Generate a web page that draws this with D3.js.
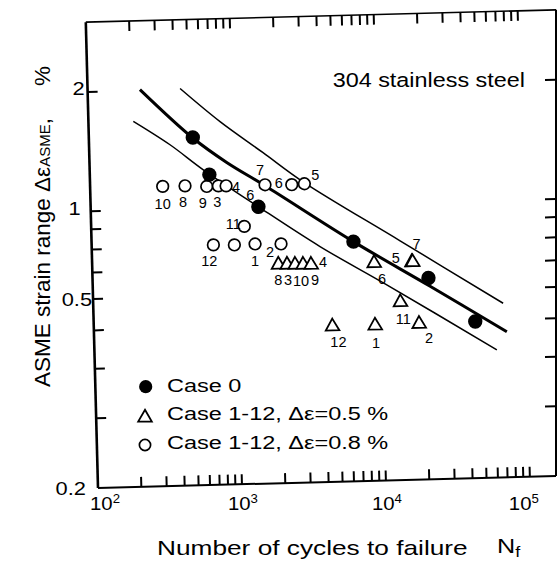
<!DOCTYPE html>
<html><head><meta charset="utf-8">
<script src="https://cdn.jsdelivr.net/npm/d3@7"></script>
<style>
html,body{margin:0;padding:0;background:#fff;}
svg{display:block;}
text{font-family:"Liberation Sans",Arial,Helvetica,sans-serif;fill:#000;}
</style>
</head><body>
<svg id="c" width="558" height="566"></svg>
<script>
// ---------------- data ----------------
const xTickValues = [200,300,400,500,600,700,800,900,1000,
                     2000,3000,4000,5000,6000,7000,8000,9000,10000,
                     20000,30000,40000,50000,60000,70000,80000,90000,100000];
const xTickLabelValues = [100, 1000, 10000, 100000];
const xTickLabelExponents = ["2","3","4","5"];
const yTickValues = [0.3,0.4,0.5,0.6,0.7,0.8,0.9,1,2];
const yTickLabels = ["0.2","0.5","1","2"];
const yTickLabelValues = [0.2, 0.6, 1, 2];   // positions where the source figure prints them

const case0Cycles = [527, 676, 1461, 6577, 21480, 44570];
const case0Strain = [1.51, 1.214, 1.00, 0.805, 0.644, 0.497];

const tri05Labels = ["8","3","10","9","4","6","5","7","11","12","1","2"];
const tri05Cycles = [1964, 2257, 2564, 2914, 3311, 9072, 16600, 16800, 13590, 4540, 8985, 18160];
const tri05Strain = [0.719, 0.718, 0.717, 0.716, 0.715, 0.715, 0.715, 0.715, 0.5675, 0.498, 0.4975, 0.499];

const circ08Labels = ["6","10","8","9","3","4","7","6","5","11","12","","1","2"];
const circ08Cycles = [1461, 319, 456, 645, 777, 879, 1639, 2512, 3076, 1156, 700, 979, 1364, 2065];
const circ08Strain = [1.00, 1.142, 1.142, 1.134, 1.136, 1.135, 1.135, 1.131, 1.135, 0.894, 0.807, 0.804, 0.806, 0.803];

const meanCycles  = [231, 527, 897, 1639, 6577, 21990, 73560];
const meanStrain  = [2.011, 1.506, 1.300, 1.129, 0.805, 0.614, 0.466];
const upperCycles = [439, 820, 1610, 3013, 13870, 70150];
const upperStrain = [2.011, 1.649, 1.368, 1.148, 0.803, 0.550];
const lowerCycles = [205, 365, 615, 1461, 3849, 11010, 62230];
const lowerStrain = [1.674, 1.453, 1.250, 1.00, 0.786, 0.623, 0.420];

const legendLabels = ["Case 0", "Case 1-12, \u0394\u03b5=0.5 %", "Case 1-12, \u0394\u03b5=0.8 %"];

// ---------------- layout ----------------
const W = 558, H = 566;
const origin = [98, 488];       // bottom-left corner of the frame
const tilt = -1.5;              // the scanned frame is slightly rotated
const rightEdge = 556;          // right border (screen x)
const plotW = 432, plotH = 466;
const circLabelOffsets = [[-8,-12],[0,17],[-2,16],[-4,16],[-1,16],[10,1],[-5,-15],[-13,-2],[11,-9],[-11,-3],[-4,16],[0,0],[0,17],[-11,8]];
const triLabelOffsets  = [[0,17],[1,17],[6,18],[12,17],[12,-1],[8,17],[-16,-3],[4,-17],[3,18],[6,17],[1,19],[10,16]];
const xLabelDx = [7, 1, 1, -6];
const yLabelDx = [-12, -1, -10, -3];
const yLabelDy = [0, 0, -2.5, -3.5];

const rad = tilt*Math.PI/180, C = Math.cos(rad), S = Math.sin(rad);
function toScreen(X, Y){ return [origin[0] + X*C - Y*S, origin[1] + X*S + Y*C]; }
function rightX(Y){ return (rightEdge - origin[0] + Y*S)/C; }

const x = d3.scaleLog().domain([100, 1e5]).range([0, plotW]);
const y = d3.scaleLog().domain([0.2, 3]).range([0, -plotH]);

const svg = d3.select("#c");
svg.append("rect").attr("width", W).attr("height", H).attr("fill", "#fff");

const g = svg.append("g").attr("transform", `translate(${origin[0]},${origin[1]}) rotate(${tilt})`);

// frame
const topY = y(3);
g.append("line").attr("x1",0).attr("y1",0).attr("x2",0).attr("y2",topY).attr("stroke","#000").attr("stroke-width",2.6);
g.append("line").attr("x1",0).attr("y1",0).attr("x2",rightX(0)).attr("y2",0).attr("stroke","#000").attr("stroke-width",2);
g.append("line").attr("x1",0).attr("y1",topY).attr("x2",rightX(topY)).attr("y2",topY).attr("stroke","#000").attr("stroke-width",1.6);
g.append("line").attr("x1",rightX(0)).attr("y1",0).attr("x2",rightX(topY)).attr("y2",topY).attr("stroke","#000").attr("stroke-width",2);

// ticks (inward)
const tk = 10;
let tickD = "";
xTickValues.forEach(v=>{
  const xv = x(v);
  tickD += `M${xv},0V${-tk}M${xv},${topY}V${topY+tk}`;
});
yTickValues.forEach(v=>{
  const yv = y(v), rx = rightX(yv);
  tickD += `M0,${yv}H${tk}M${rx},${yv}H${rx-11}`;
});
g.append("path").attr("d", tickD).attr("fill","none").attr("stroke","#000").attr("stroke-width",2);

// curves
const line = d3.line().x(d=>x(d[0])).y(d=>y(d[1])).curve(d3.curveCatmullRom.alpha(0.5));
g.append("path").attr("d", line(d3.zip(upperCycles, upperStrain))).attr("fill","none").attr("stroke","#000").attr("stroke-width",1.5);
g.append("path").attr("d", line(d3.zip(lowerCycles, lowerStrain))).attr("fill","none").attr("stroke","#000").attr("stroke-width",1.5);
g.append("path").attr("d", line(d3.zip(meanCycles, meanStrain))).attr("fill","none").attr("stroke","#000").attr("stroke-width",3);

// markers
const triPath = "M0,-6.2L6.8,5.6L-6.8,5.6Z";
circ08Cycles.forEach((n,i)=>{
  g.append("circle").attr("cx",x(n)).attr("cy",y(circ08Strain[i])).attr("r",5.8)
   .attr("fill","#fff").attr("stroke","#000").attr("stroke-width",1.7);
});
tri05Cycles.forEach((n,i)=>{
  g.append("path").attr("d",triPath).attr("transform",`translate(${x(n)},${y(tri05Strain[i])})`)
   .attr("fill","#fff").attr("stroke","#000").attr("stroke-width",1.8).attr("stroke-linejoin","miter");
});
case0Cycles.forEach((n,i)=>{
  g.append("circle").attr("cx",x(n)).attr("cy",y(case0Strain[i])).attr("r",7.2).attr("fill","#000");
});

// data labels (unrotated text)
function ptLabel(n, e, txt, off){
  if(!txt) return;
  const p = toScreen(x(n), y(e));
  svg.append("text").attr("x",p[0]+off[0]).attr("y",p[1]+off[1]).attr("dy","0.36em")
    .attr("text-anchor","middle").attr("font-size",14.5).text(txt);
}
circ08Cycles.forEach((n,i)=>ptLabel(n, circ08Strain[i], circ08Labels[i], circLabelOffsets[i]));
tri05Cycles.forEach((n,i)=>ptLabel(n, tri05Strain[i], tri05Labels[i], triLabelOffsets[i]));

// stretched text helper
function stext(px, py, anchor, size, sx){
  return svg.append("text").attr("transform",`translate(${px},${py}) scale(${sx},1)`)
    .attr("text-anchor",anchor).attr("font-size",size);
}

// x tick labels
xTickLabelValues.forEach((v,i)=>{
  const p = toScreen(x(v), 0);
  const t = stext(p[0]+xLabelDx[i], 510, "middle", 18.5, 1.1);
  t.append("tspan").text("10");
  t.append("tspan").attr("dy",-7).attr("font-size",12).text(xTickLabelExponents[i]);
});
// y tick labels
yTickLabelValues.forEach((v,i)=>{
  const p = toScreen(0, y(v));
  stext(p[0]+yLabelDx[i], p[1]+yLabelDy[i], "end", 19, 1.15).attr("dy","0.36em").text(yTickLabels[i]);
});

// annotation
stext(525, 86.5, "end", 19.5, 1.2).text("304 stainless steel");

// x title
stext(157, 555, "start", 21, 1.25).text("Number of cycles to failure");
const nf = stext(497, 553, "start", 21, 1.2);
nf.append("tspan").text("N");
nf.append("tspan").attr("dy",4).attr("font-size",15).text("f");

// y title
const yt = svg.append("text").attr("transform","translate(50,387) rotate(-90)").attr("font-size",22.5).attr("text-anchor","start");
yt.append("tspan").text("ASME strain range \u0394\u03b5");
yt.append("tspan").attr("font-size",15).text("ASME");
yt.append("tspan").text(",");
svg.append("text").attr("transform","translate(50,86) rotate(-90)").attr("font-size",22.5).text("%");

// legend
svg.append("circle").attr("cx",145.7).attr("cy",386.7).attr("r",6.6).attr("fill","#000");
svg.append("path").attr("d",triPath).attr("transform","translate(145,416)").attr("fill","#fff").attr("stroke","#000").attr("stroke-width",1.8);
svg.append("circle").attr("cx",145).attr("cy",445).attr("r",5.6).attr("fill","#fff").attr("stroke","#000").attr("stroke-width",1.7);
[392, 420, 448.5].forEach((by,i)=>{
  stext(167, by, "start", 18.5, 1.27).text(legendLabels[i]);
});
</script>
</body></html>
